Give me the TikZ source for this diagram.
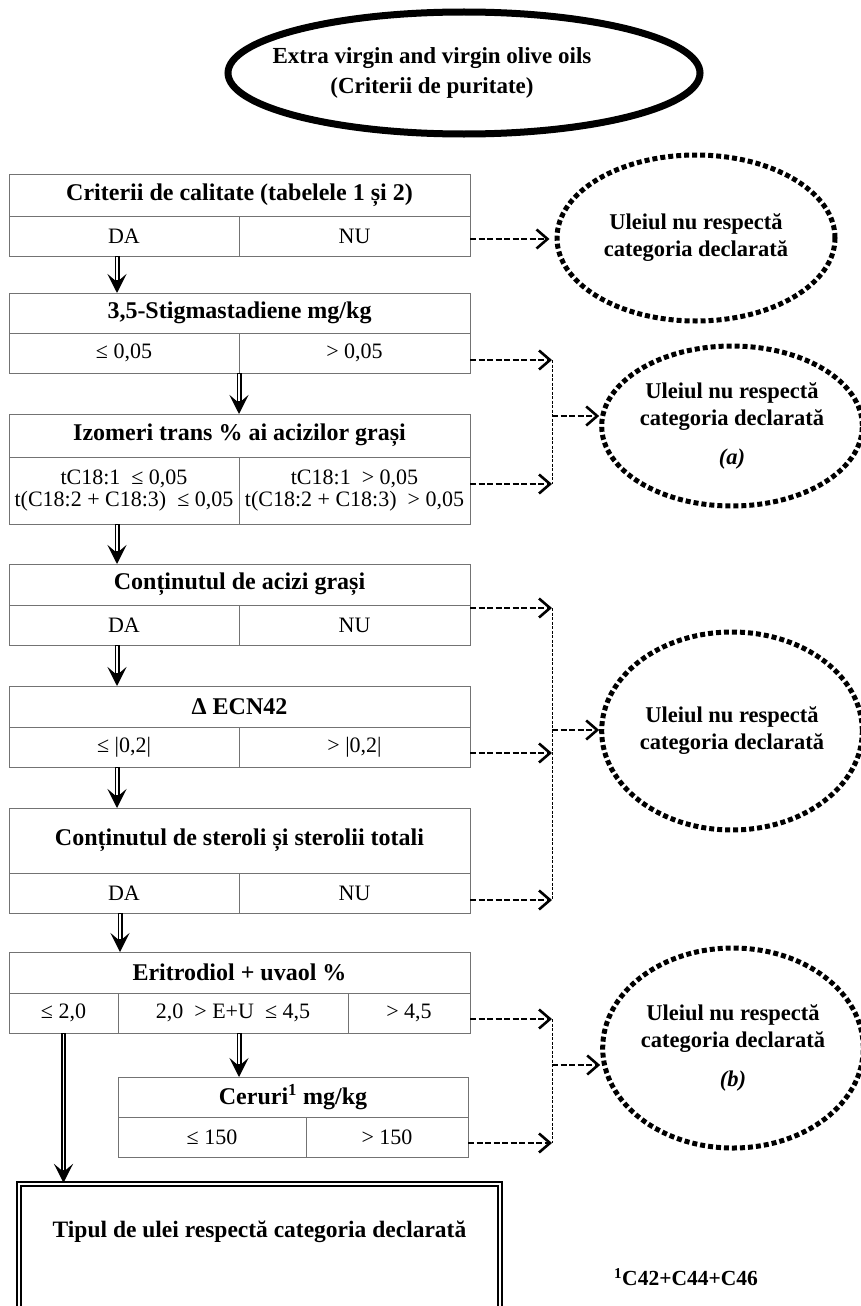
\documentclass[tikz,border=0pt]{standalone}
\usepackage{fontspec}
\setmainfont{Liberation Serif}
\usetikzlibrary{arrows.meta,positioning,shapes.geometric}

\tikzset{
  box/.style={rectangle,draw=black!55,line width=0.9pt,inner sep=0pt,outer sep=0pt,
    align=center,font=\fontsize{22}{22}\selectfont},
  hdr/.style={box,font=\fontsize{24}{26}\selectfont\bfseries,minimum width=461pt},
  lcell/.style={box,minimum width=230pt},
  rcell/.style={box,minimum width=231pt},
  okarrow/.style={line width=5pt,-{Stealth[length=19pt,width=19pt,inset=8pt]},
    postaction={draw=white,line width=1.8pt,shorten >=13pt,shorten <=1pt,-}},
  noarrow/.style={line width=2.4pt,dash pattern=on 6pt off 2.5pt,
    -{Straight Barb[length=11pt,width=19pt,line width=2.6pt]}},
  bus/.style={line width=1pt,dash pattern=on 3pt off 1.5pt},
  reject/.style={ellipse,draw,line width=5pt,dash pattern=on 5pt off 3pt,inner sep=0pt,
    align=center,font=\fontsize{22.5}{27}\selectfont\bfseries}
}

\begin{document}
\begin{tikzpicture}[x=1pt,y=-1pt]
\useasboundingbox (0,0) rectangle (861,1306);
% title
\node (title) [ellipse,draw,line width=7pt,minimum width=472pt,minimum height=122pt,inner sep=0pt] at (464,73) {};
\node (titletxt) [align=center,font=\fontsize{23}{30}\selectfont\bfseries] at (432,73) {Extra virgin and virgin olive oils\\(Criterii de puritate)};
%
\node (hdr1) [hdr,minimum height=42pt] at (239.5,195) {Criterii de calitate (tabelele 1 și 2)};
\node (da1) [lcell,minimum height=40pt] at (124,236) {DA};
\node (nu1) [rcell,minimum height=40pt] at (354.5,236) {NU};
%
\node (hdr2) [hdr,minimum height=40pt] at (239.5,313) {3,5-Stigmastadiene mg/kg};
\node (le2) [lcell,minimum height=40pt] at (124,353) {≤ 0,05};
\node (gt2) [rcell,minimum height=40pt] at (354.5,353) {> 0,05};
%
\node (hdr3) [hdr,minimum height=43pt] at (239.5,435.5) {Izomeri trans \% ai acizilor grași};
\node (le3) [lcell,minimum height=67pt] at (124,490.5) {tC18:1 \ ≤ 0,05\\t(C18:2 + C18:3) \ ≤ 0,05};
\node (gt3) [rcell,minimum height=67pt] at (354.5,490.5) {tC18:1 \ > 0,05\\t(C18:2 + C18:3) \ > 0,05};
%
\node (hdr4) [hdr,minimum height=41pt] at (239.5,584.5) {Conținutul de acizi grași};
\node (da4) [lcell,minimum height=40pt] at (124,625) {DA};
\node (nu4) [rcell,minimum height=40pt] at (354.5,625) {NU};
%
\node (hdr5) [hdr,minimum height=41pt] at (239.5,706.5) {Δ ECN42};
\node (le5) [lcell,minimum height=40pt] at (124,747) {≤ |0,2|};
\node (gt5) [rcell,minimum height=40pt] at (354.5,747) {> |0,2|};
%
\node (hdr6) [hdr,minimum height=65pt] at (239.5,840.5) {Conținutul de steroli și sterolii totali};
\node (da6) [lcell,minimum height=40pt] at (124,893) {DA};
\node (nu6) [rcell,minimum height=40pt] at (354.5,893) {NU};
%
\node (hdr7) [hdr,minimum height=41pt] at (239.5,972.5) {Eritrodiol + uvaol \%};
\node (c71) [box,minimum width=109pt,minimum height=40pt] at (63.5,1013) {≤ 2,0};
\node (c72) [box,minimum width=230pt,minimum height=40pt] at (233,1013) {2,0 \ > E+U \ ≤ 4,5};
\node (c73) [box,minimum width=122pt,minimum height=40pt] at (409,1013) {> 4,5};
%
\node (hdr8) [hdr,minimum width=350pt,minimum height=40pt] at (293,1097) {Ceruri\textsuperscript{1} mg/kg};
\node (le8) [box,minimum width=188pt,minimum height=40pt] at (212,1137) {≤ 150};
\node (gt8) [box,minimum width=162pt,minimum height=40pt] at (387,1137) {> 150};
%
\node (final) [draw,double,double distance=2pt,line width=2.2pt,minimum width=481pt,minimum height=128pt,inner sep=0pt] at (259.5,1248) {};
\node (finaltxt) [font=\fontsize{23.5}{25}\selectfont\bfseries] at (259.5,1232) {Tipul de ulei respectă categoria declarată};
\node (note) [font=\fontsize{21.5}{23}\selectfont\bfseries] at (686,1277) {\textsuperscript{1}C42+C44+C46};
%
\node (ul1) [reject,minimum width=278pt,minimum height=166pt] at (696,238) {Uleiul nu respectă\\categoria declarată};
\node (ulA) [reject,minimum width=260pt,minimum height=160pt] at (732,426) {Uleiul nu respectă\\categoria declarată\\[12pt]\textit{(a)}};
\node (ulB) [reject,minimum width=258pt,minimum height=198pt] at (732,731) {Uleiul nu respectă\\categoria declarată};
\node (ulC) [reject,minimum width=256pt,minimum height=200pt] at (733,1048) {Uleiul nu respectă\\categoria declarată\\[12pt]\textit{(b)}};
%
\draw[okarrow] ([xshift=-7pt]da1.south) -- ([xshift=-7pt]da1.south |- hdr2.north);
\draw[okarrow] (le2.south east) -- (le2.south east |- hdr3.north);
\draw[okarrow] ([xshift=-7pt]le3.south) -- ([xshift=-7pt]le3.south |- hdr4.north);
\draw[okarrow] ([xshift=-7pt]da4.south) -- ([xshift=-7pt]da4.south |- hdr5.north);
\draw[okarrow] ([xshift=-7pt]le5.south) -- ([xshift=-7pt]le5.south |- hdr6.north);
\draw[okarrow] ([xshift=-4pt]da6.south) -- ([xshift=-4pt]da6.south |- hdr7.north);
\draw[okarrow] ([xshift=6pt]c72.south) -- ([xshift=6pt]c72.south |- hdr8.north);
\draw[okarrow] (c71.south) -- (c71.south |- final.north);
%
\coordinate (busA1) at (552,360);
\coordinate (busA2) at (552,484);
\coordinate (busAm) at (552,416);
\coordinate (busB1) at (552,608);
\coordinate (busB2) at (552,753);
\coordinate (busB3) at (552,900);
\coordinate (busBm) at (552,730);
\coordinate (busC1) at (552,1019);
\coordinate (busC2) at (552,1143);
\coordinate (busCm) at (552,1065);
%
\draw[noarrow,shorten >=5pt] ([yshift=-3pt]nu1.east) -- ([yshift=-3pt]nu1.east -| ul1.west);
\draw[noarrow] (gt2.east |- busA1) -- (busA1);
\draw[noarrow] (gt3.east |- busA2) -- (busA2);
\draw[bus] (busA1) -- (busA2);
\draw[noarrow] (busAm) -- (busAm -| ulA.west);
\draw[noarrow] (nu4.east |- busB1) -- (busB1);
\draw[noarrow] (gt5.east |- busB2) -- (busB2);
\draw[noarrow] (nu6.east |- busB3) -- (busB3);
\draw[bus] (busB1) -- (busB3);
\draw[noarrow] (busBm) -- (busBm -| ulB.west);
\draw[noarrow] (c73.east |- busC1) -- (busC1);
\draw[noarrow] (gt8.east |- busC2) -- (busC2);
\draw[bus] (busC1) -- (busC2);
\draw[noarrow] (busCm) -- (busCm -| ulC.west);
\end{tikzpicture}
\end{document}
